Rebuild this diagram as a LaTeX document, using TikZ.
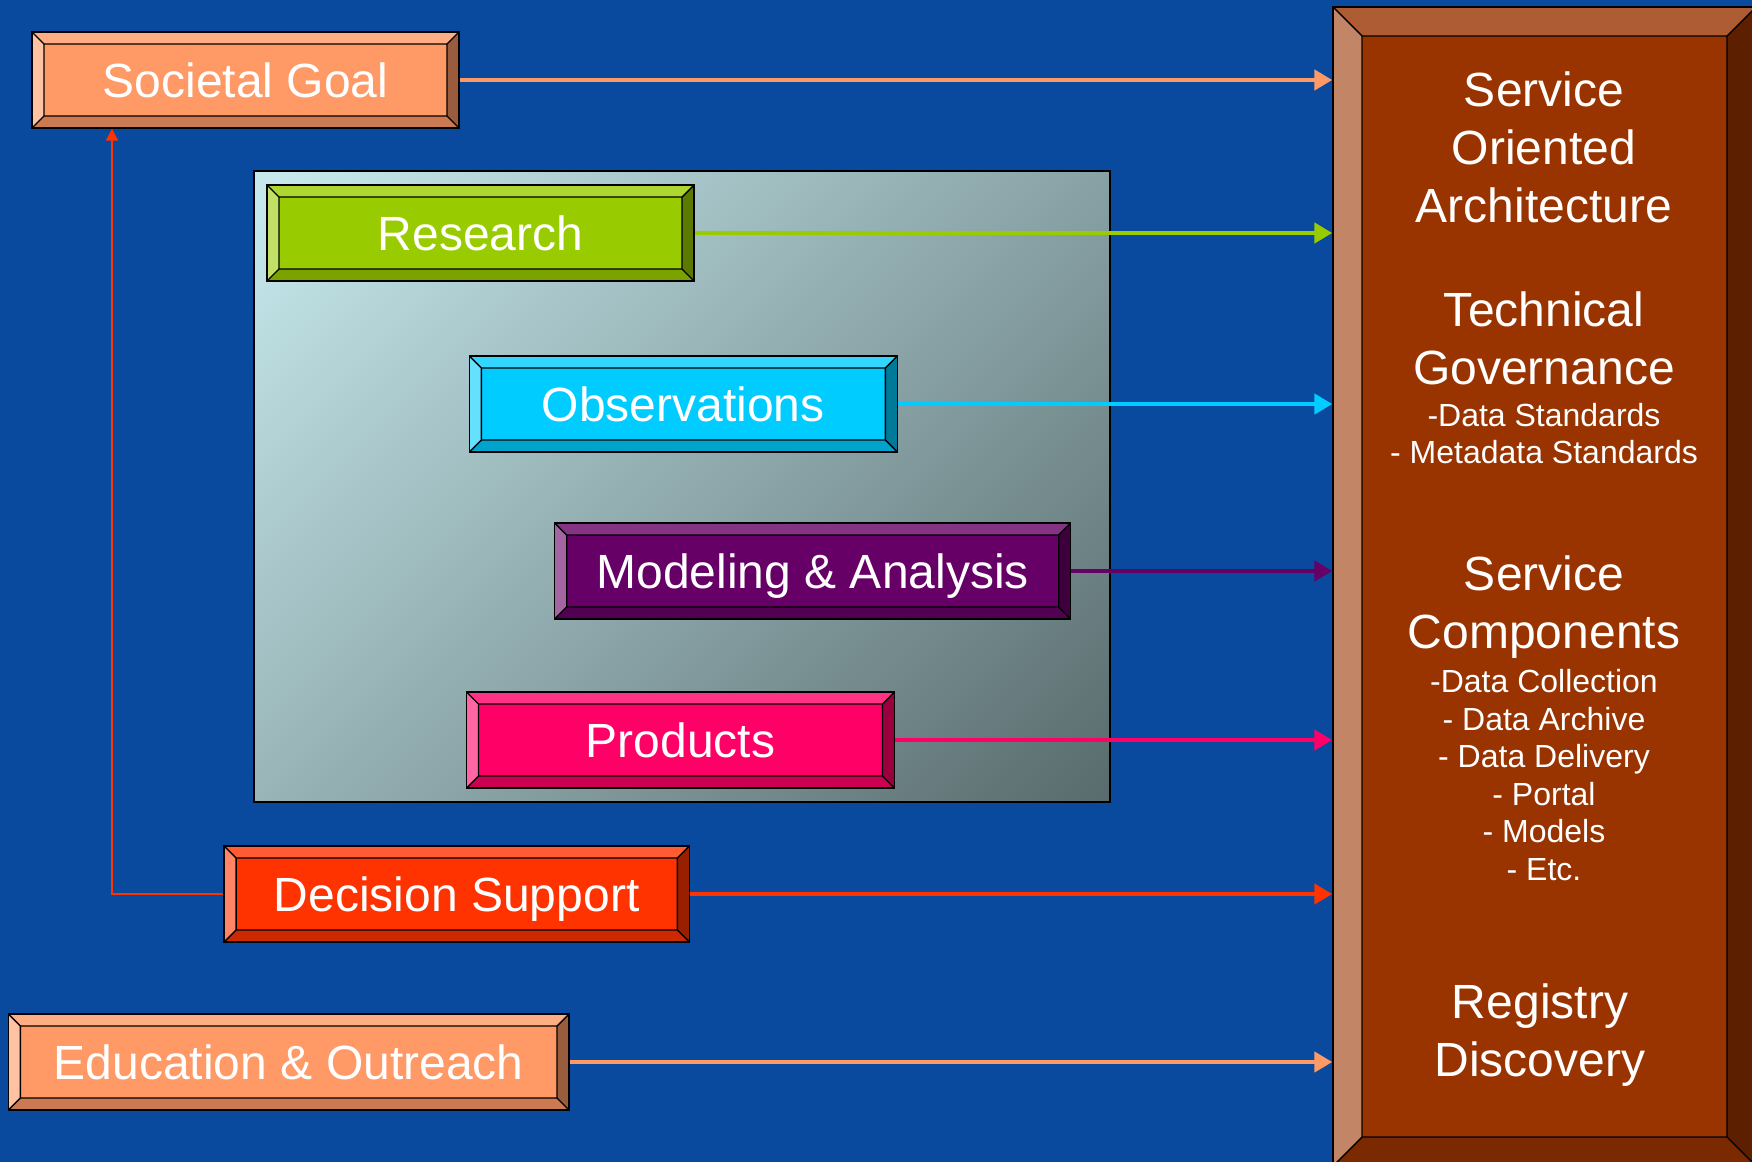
\documentclass[tikz,border=0pt]{standalone}
\usepackage{fontspec}
\setmainfont{Liberation Sans}
\usetikzlibrary{calc,arrows.meta}

\definecolor{slideblue}{RGB}{10,74,158}
\definecolor{goalorange}{HTML}{FF9966}
\definecolor{researchgreen}{HTML}{99CC00}
\definecolor{obscyan}{HTML}{00CCFF}
\definecolor{modelpurple}{HTML}{660066}
\definecolor{productpink}{HTML}{FF0066}
\definecolor{decisionred}{HTML}{FF3300}
\definecolor{soabrown}{HTML}{993300}
\definecolor{greylight}{RGB}{198,232,236}
\definecolor{greydark}{RGB}{84,102,104}
\pgfdeclareverticalshading{studygrad}{100bp}{color(0bp)=(greydark); color(12bp)=(greydark); color(84bp)=(greylight); color(100bp)=(greylight)}

\tikzset{
  bevel/.style 2 args={fill=#1, draw=black, line width=0.7pt, inner sep=0pt,
    path picture={
      \coordinate (o1) at (path picture bounding box.north west);
      \coordinate (o2) at (path picture bounding box.north east);
      \coordinate (o3) at (path picture bounding box.south east);
      \coordinate (o4) at (path picture bounding box.south west);
      \coordinate (i1) at ($(o1)+(#2,-#2)$);
      \coordinate (i2) at ($(o2)+(-#2,-#2)$);
      \coordinate (i3) at ($(o3)+(-#2,#2)$);
      \coordinate (i4) at ($(o4)+(#2,#2)$);
      \fill[#1!80!white] (o1) -- (o2) -- (i2) -- (i1) -- cycle;
      \fill[#1!60!white] (o1) -- (i1) -- (i4) -- (o4) -- cycle;
      \fill[#1!60!black] (o2) -- (o3) -- (i3) -- (i2) -- cycle;
      \fill[#1!80!black] (o4) -- (i4) -- (i3) -- (o3) -- cycle;
      \draw[black, line width=0.7pt] (i1) rectangle (i3) (o1) -- (i1) (o2) -- (i2) (o3) -- (i3) (o4) -- (i4);
    }},
  labelbox/.style={bevel={#1}{6pt}, text=white, font=\fontsize{24}{29}\selectfont,
    minimum height=48pt, text height=17.2pt, text depth=0pt},
  paneltitle/.style={text=white, align=center, inner sep=0pt, font=\fontsize{24}{29}\selectfont},
  panellist/.style={text=white, align=center, inner sep=0pt, font=\fontsize{16}{18.75}\selectfont},
  feed/.style={line width=2.4pt, -{Triangle[length=9pt,width=10pt]}},
  back/.style={decisionred, line width=1pt, -{Triangle[length=6pt,width=6pt]}}
}

\begin{document}
\begin{tikzpicture}[x=0.5pt,y=-0.5pt]
\useasboundingbox (0,0) rectangle (1752,1162);
\fill[slideblue] (0,0) rectangle (1752,1162);
\shade[draw=black, line width=0.6pt, shading=studygrad, shading angle=45] (254,171) rectangle (1110,802);

% right panel
\node[bevel={soabrown}{14.5pt}, minimum width=211.5pt, minimum height=579.5pt] (soa) at (1544.5,586.5) {};
\node[paneltitle] (soatitle) at (1544,147.5) {Service\\Oriented\\Architecture};
\node[paneltitle] (govtitle) at (1544,338) {Technical\\Governance};
\node[panellist] (govlist) at (1544,433.5) {-Data Standards\\- Metadata Standards};
\node[paneltitle] (comptitle) at (1544,607) {Service\\Components};
\node[panellist] (complist) at (1544,775) {-Data Collection\\- Data Archive\\- Data Delivery\\- Portal\\- Models\\- Etc.};
\node[paneltitle] (regtitle) at (1540,1035.5) {Registry\\Discovery};

% boxes
\node[labelbox=goalorange, minimum width=213.5pt] (goal) at (245.5,80) {Societal Goal};
\node[labelbox=researchgreen, minimum width=213.5pt] (research) at (480.5,233) {Research};
\node[labelbox=obscyan, minimum width=214pt] (obs) at (683.3,404) {Observations};
\node[labelbox=modelpurple, minimum width=258pt] (model) at (812.7,571) {Modeling \& Analysis};
\node[labelbox=productpink, minimum width=214pt] (products) at (680.5,740) {Products};
\node[labelbox=decisionred, minimum width=232.6pt] (decision) at (456.7,894) {Decision Support};
\node[labelbox=goalorange, minimum width=280.3pt] (education) at (288.7,1062) {Education \& Outreach};

\foreach \n/\c in {goal/goalorange, research/researchgreen, obs/obscyan, model/modelpurple, products/productpink, decision/decisionred, education/goalorange}
  \draw[feed, \c] (\n.east) -- (\n.east -| soa.west);

\coordinate (bend) at (112,0);
\draw[back] (decision.west) -- (decision.west -| bend) -- (bend |- goal.south);
\end{tikzpicture}
\end{document}
